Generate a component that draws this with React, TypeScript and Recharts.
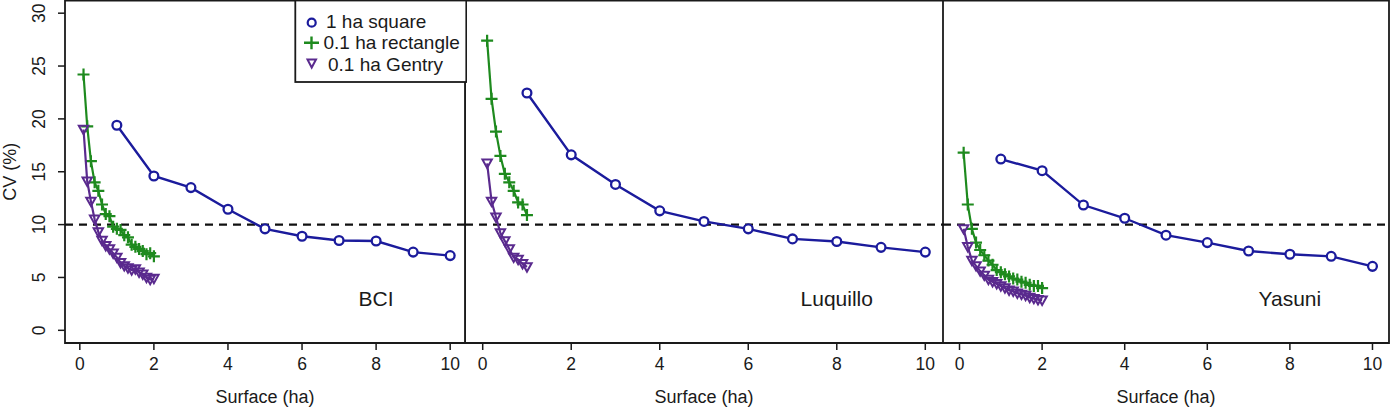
import React from 'react';
import {
  ScatterChart,
  Scatter,
  XAxis,
  YAxis,
  ReferenceLine,
  ReferenceArea,
  ReferenceDot,
} from 'recharts';

// ---------- data ----------
const squareSurface = [1, 2, 3, 4, 5, 6, 7, 8, 9, 10];
const smallSurface = [0.1, 0.2, 0.3, 0.4, 0.5, 0.6, 0.7, 0.8, 0.9, 1.0, 1.1, 1.2, 1.3, 1.4, 1.5, 1.6, 1.7, 1.8, 1.9, 2.0];
const luqSmallSurface = [0.1, 0.2, 0.3, 0.4, 0.5, 0.6, 0.7, 0.8, 0.9, 1.0];

const bciSquare = [19.4, 14.6, 13.5, 11.45, 9.6, 8.9, 8.5, 8.45, 7.4, 7.07];
const bciRect = [24.2, 19.3, 16.0, 14.0, 13.2, 11.9, 11.0, 10.8, 9.8, 9.6, 9.5, 9.0, 8.8, 8.1, 7.9, 7.7, 7.5, 7.2, 7.3, 7.0];
const bciGentry = [19.0, 14.1, 12.2, 10.5, 9.3, 8.5, 8.0, 7.7, 7.3, 6.9, 6.4, 6.1, 5.9, 5.7, 5.8, 5.5, 5.3, 5.0, 4.8, 4.9];

const luqSquare = [22.45, 16.6, 13.8, 11.3, 10.3, 9.6, 8.65, 8.4, 7.85, 7.4];
const luqRect = [27.4, 21.9, 18.8, 16.5, 14.8, 14.0, 13.2, 12.1, 11.9, 10.9];
const luqGentry = [15.8, 12.2, 10.7, 9.2, 8.45, 7.7, 6.9, 6.7, 6.3, 6.0];

const yasSquare = [16.2, 15.1, 11.85, 10.6, 9.0, 8.3, 7.5, 7.2, 7.0, 6.05];
const yasRect = [16.8, 11.9, 9.6, 8.3, 7.6, 7.1, 6.6, 6.2, 5.7, 5.5, 5.3, 5.1, 4.9, 4.8, 4.6, 4.5, 4.3, 4.2, 4.2, 4.0];
const yasGentry = [9.6, 7.9, 6.6, 6.1, 5.6, 5.2, 4.8, 4.6, 4.4, 4.2, 4.0, 3.8, 3.7, 3.5, 3.4, 3.3, 3.1, 3.0, 2.9, 2.85];

const xTicks = [0, 2, 4, 6, 8, 10];
const yTicks = [0, 5, 10, 15, 20, 25, 30];
const threshold = 10;
const seriesNames = ['1 ha square', '0.1 ha rectangle', '0.1 ha Gentry'];
const siteNames = ['BCI', 'Luquillo', 'Yasuni'];
const labelPos = { x: 8, y: 3 };

// ---------- styles ----------
const BLUE = '#1b1b9c';
const GREEN = '#1e8a1e';
const PURPLE = '#5a2a8e';
const INK = '#1a1a1a';
const FONT = '"Liberation Sans", Arial, Helvetica, sans-serif';
const X_DOMAIN: [number, number] = [-0.4, 10.4];
const Y_DOMAIN: [number, number] = [-1.2, 31.2];

const zip = (xs: number[], ys: number[]) => xs.map((x, i) => ({ x, y: ys[i] }));

const CircleShape = (p: any) => (
  <circle cx={p.cx} cy={p.cy} r={4.4} fill="#fff" stroke={BLUE} strokeWidth={2.3} />
);
const PlusShape = (p: any) => (
  <path
    d={`M${p.cx - 6},${p.cy}H${p.cx + 6}M${p.cx},${p.cy - 6}V${p.cy + 6}`}
    stroke={GREEN}
    strokeWidth={2.2}
    fill="none"
  />
);
const TriShape = (p: any) => (
  <path
    d={`M${p.cx - 4.7},${p.cy - 3.7}L${p.cx + 4.7},${p.cy - 3.7}L${p.cx},${p.cy + 4.7}Z`}
    stroke={PURPLE}
    strokeWidth={2}
    fill="none"
  />
);

const YTick = (p: any) => {
  const { x, y, payload } = p;
  return (
    <text
      x={x}
      y={y}
      transform={`rotate(-90 ${x} ${y})`}
      textAnchor="middle"
      fontSize={17.5}
      fontFamily={FONT}
      fill={INK}
    >
      {payload.value}
    </text>
  );
};

const YTitle = (p: any) => {
  const vb = p.viewBox || { x: 0, y: 0, width: 65, height: 343 };
  const x = vb.x + 16;
  const y = vb.y + vb.height / 2;
  return (
    <text
      x={x}
      y={y}
      transform={`rotate(-90 ${x} ${y})`}
      textAnchor="middle"
      fontSize={18}
      fontFamily={FONT}
      fill={INK}
    >
      CV (%)
    </text>
  );
};

type PanelProps = {
  left: number;
  width: number;
  showY: boolean;
  marginRight: number;
  square: { x: number; y: number }[];
  rect: { x: number; y: number }[];
  gentry: { x: number; y: number }[];
  site: string;
};

const Panel = ({ left, width, showY, marginRight, square, rect, gentry, site }: PanelProps) => (
  <div style={{ position: 'absolute', left, top: 0 }}>
    <ScatterChart
      width={width}
      height={408}
      margin={{ top: 0.5, right: marginRight, bottom: 0, left: 0 }}
      style={{ fontFamily: FONT }}
    >
      <XAxis
        type="number"
        dataKey="x"
        domain={X_DOMAIN}
        allowDataOverflow
        ticks={xTicks}
        interval={0}
        axisLine={false}
        tickLine={{ stroke: INK, strokeWidth: 1.5 }}
        tickSize={7}
        tickMargin={8}
        height={65}
        tick={{ fontSize: 17.5, fill: INK, fontFamily: FONT }}
        label={{ value: 'Surface (ha)', position: 'insideBottom', offset: 5, fontSize: 18, fill: INK, fontFamily: FONT }}
      />
      <YAxis
        type="number"
        dataKey="y"
        domain={Y_DOMAIN}
        allowDataOverflow
        ticks={yTicks}
        interval={0}
        hide={!showY}
        width={65}
        axisLine={false}
        tickLine={{ stroke: INK, strokeWidth: 1.5 }}
        tickSize={7}
        tickMargin={13}
        tick={<YTick />}
        label={showY ? { content: <YTitle /> } : undefined}
      />
      <ReferenceLine y={threshold} stroke="#111" strokeWidth={2.2} strokeDasharray="8 6" />
      <Scatter
        name={seriesNames[0]}
        data={square}
        line={{ stroke: BLUE, strokeWidth: 2.4 }}
        lineType="joint"
        shape={<CircleShape />}
        isAnimationActive={false}
      />
      <Scatter
        name={seriesNames[1]}
        data={rect}
        line={{ stroke: GREEN, strokeWidth: 2.2 }}
        lineType="joint"
        shape={<PlusShape />}
        isAnimationActive={false}
      />
      <Scatter
        name={seriesNames[2]}
        data={gentry}
        line={{ stroke: PURPLE, strokeWidth: 2.2 }}
        lineType="joint"
        shape={<TriShape />}
        isAnimationActive={false}
      />
      <ReferenceDot
        x={labelPos.x}
        y={labelPos.y}
        r={0}
        fill="none"
        stroke="none"
        label={{ value: site, position: 'center', fontSize: 21, fill: INK, fontFamily: FONT }}
      />
      <ReferenceArea
        x1={X_DOMAIN[0]}
        x2={X_DOMAIN[1]}
        y1={Y_DOMAIN[0]}
        y2={Y_DOMAIN[1]}
        fill="none"
        fillOpacity={0}
        stroke={INK}
        strokeWidth={1.8}
        ifOverflow="visible"
      />
    </ScatterChart>
  </div>
);

const Legend3 = () => (
  <svg width={467} height={90} style={{ position: 'absolute', left: 0, top: 0, overflow: 'hidden' }}>
    <rect x={295.3} y={0.5} width={171} height={81.5} fill="#fff" stroke={INK} strokeWidth={1.8} />
    <circle cx={311.7} cy={22.7} r={4} fill="none" stroke={BLUE} strokeWidth={2.2} />
    <path d="M304,42.7H319M311.5,36.5V49.3" stroke={GREEN} strokeWidth={2.4} fill="none" />
    <path d="M307.5,59.5L316,59.5L311.7,67.5Z" stroke={PURPLE} strokeWidth={2} fill="none" />
    <text x={326} y={28.3} fontSize={19} fontFamily={FONT} fill={INK}>{seriesNames[0]}</text>
    <text x={323.5} y={49.3} fontSize={19} fontFamily={FONT} fill={INK}>{seriesNames[1]}</text>
    <text x={328} y={70.7} fontSize={19} fontFamily={FONT} fill={INK}>{seriesNames[2]}</text>
  </svg>
);

export default function App() {
  return (
    <div style={{ position: 'absolute', left: 0, top: 0, width: 1390, height: 408, background: '#fff', overflow: 'hidden' }}>
      <Panel
        left={0}
        width={466}
        showY
        marginRight={1}
        square={zip(squareSurface, bciSquare)}
        rect={zip(smallSurface, bciRect)}
        gentry={zip(smallSurface, bciGentry)}
        site={siteNames[0]}
      />
      <Panel
        left={465}
        width={478}
        showY={false}
        marginRight={0}
        square={zip(squareSurface, luqSquare)}
        rect={zip(luqSmallSurface, luqRect)}
        gentry={zip(luqSmallSurface, luqGentry)}
        site={siteNames[1]}
      />
      <Panel
        left={943}
        width={447}
        showY={false}
        marginRight={1}
        square={zip(squareSurface, yasSquare)}
        rect={zip(smallSurface, yasRect)}
        gentry={zip(smallSurface, yasGentry)}
        site={siteNames[2]}
      />
      <Legend3 />
    </div>
  );
}
